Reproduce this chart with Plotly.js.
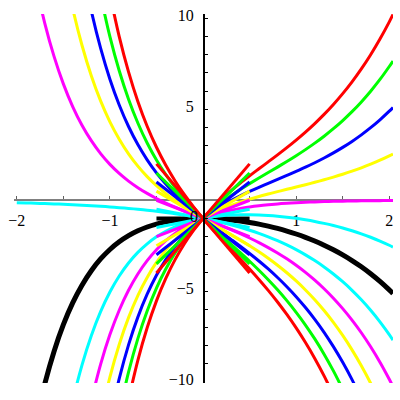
<!DOCTYPE html>
<html><head><meta charset="utf-8">
<script src="https://cdn.plot.ly/plotly-3.0.1.min.js"></script>
<style>html,body{margin:0;padding:0;background:#fff}#plot{width:400px;height:400px}</style>
</head><body><div id="plot"></div>
<script>
// shared x grid for the solution curves
const xGrid = [-2,-1.9,-1.8,-1.7,-1.6,-1.5,-1.4,-1.3,-1.2,-1.1,-1,-0.9,-0.8,-0.7,-0.6,-0.5,-0.4,-0.3,-0.2,-0.1,0,0.1,0.2,0.3,0.4,0.5,0.6,0.7,0.8,0.9,1,1.1,1.2,1.3,1.4,1.5,1.6,1.7,1.8,1.9,2,2.04];

// solution curves through (0,-1), named by initial slope; each starts at an index of xGrid
const yBlack0 = [-12.31,-10.11,-8.312,-6.844,-5.646,-4.670,-3.875,-3.230,-2.708,-2.288,-1.951,-1.683,-1.473,-1.310,-1.189,-1.101,-1.043,-1.010,-1,-1.010,-1.038,-1.083,-1.144,-1.222,-1.315,-1.425,-1.551,-1.695,-1.857,-2.040,-2.244,-2.471,-2.724,-3.004,-3.316,-3.660,-4.042,-4.465,-4.932,-5.133];
const yCyanP1 = [-13.47,-11.05,-9.067,-7.449,-6.128,-5.049,-4.169,-3.452,-2.869,-2.396,-2.014,-1.707,-1.462,-1.268,-1.116,-1,-0.914,-0.854,-0.816,-0.797,-0.795,-0.808,-0.836,-0.876,-0.930,-0.996,-1.075,-1.167,-1.273,-1.392,-1.527,-1.678,-1.847,-2.035,-2.244,-2.475,-2.575];
const yMagentaP2 = [-11.02,-9.025,-7.389,-6.050,-4.953,-4.055,-3.320,-2.718,-2.226,-1.822,-1.492,-1.221,-1,-0.819,-0.670,-0.549,-0.449,-0.368,-0.301,-0.247,-0.202,-0.165,-0.135,-0.111,-0.091,-0.074,-0.061,-0.050,-0.041,-0.033,-0.027,-0.022,-0.018,-0.017];
const yYellowP3 = [-11.92,-9.729,-7.931,-6.454,-5.241,-4.244,-3.422,-2.745,-2.182,-1.716,-1.326,-1,-0.723,-0.487,-0.282,-0.102,0.059,0.206,0.342,0.473,0.599,0.726,0.854,0.986,1.124,1.271,1.428,1.597,1.780,1.980,2.199,2.439,2.541];
const yBlueP4 = [-12.07,-9.812,-7.955,-6.427,-5.167,-4.126,-3.263,-2.543,-1.941,-1.432,-1,-0.628,-0.303,-0.015,0.246,0.486,0.713,0.932,1.147,1.364,1.587,1.818,2.062,2.322,2.602,2.905,3.234,3.594,3.988,4.420,4.896,5.099];
const yGreenP5 = [-11.69,-9.457,-7.613,-6.091,-4.830,-3.782,-2.903,-2.165,-1.537,-1,-0.532,-0.119,0.252,0.593,0.913,1.220,1.521,1.822,2.129,2.448,2.783,3.139,3.521,3.934,4.382,4.871,5.407,5.995,6.641,7.353,7.657];
const yRedP6 = [-10.96,-8.800,-7.015,-5.533,-4.300,-3.264,-2.390,-1.643,-1,-0.437,0.065,0.519,0.941,1.340,1.727,2.110,2.496,2.894,3.309,3.747,4.215,4.719,5.265,5.859,6.509,7.221,8.002,8.862,9.809,10.215];
const yCyanM1 = [-0.135,-0.150,-0.165,-0.183,-0.202,-0.223,-0.247,-0.273,-0.301,-0.333,-0.368,-0.407,-0.449,-0.497,-0.549,-0.607,-0.670,-0.741,-0.819,-0.905,-1,-1.105,-1.221,-1.350,-1.492,-1.649,-1.822,-2.014,-2.226,-2.460,-2.718,-3.004,-3.320,-3.669,-4.055,-4.482,-4.953,-5.474,-6.050,-6.686,-7.389,-7.691];
const yMagentaM2 = [11.98,9.744,7.908,6.398,5.153,4.125,3.273,2.564,1.972,1.475,1.052,0.690,0.375,0.097,-0.152,-0.380,-0.594,-0.799,-1,-1.201,-1.405,-1.617,-1.839,-2.076,-2.329,-2.603,-2.900,-3.224,-3.579,-3.969,-4.397,-4.868,-5.387,-5.959,-6.590,-7.287,-8.057,-8.907,-9.846,-10.249];
const yYellowM3 = [13.02,10.552,8.522,6.847,5.462,4.313,3.356,2.553,1.876,1.299,0.801,0.367,-0.020,-0.370,-0.694,-1,-1.296,-1.589,-1.884,-2.187,-2.503,-2.836,-3.192,-3.575,-3.989,-4.440,-4.933,-5.473,-6.066,-6.718,-7.436,-8.228,-9.101,-10.065,-11.128];
const yBlueM4 = [12.92,10.42,8.359,6.653,5.237,4.054,3.062,2.222,1.505,0.885,0.340,-0.145,-0.589,-1,-1.392,-1.773,-2.151,-2.534,-2.930,-3.343,-3.781,-4.249,-4.754,-5.301,-5.898,-6.550,-7.264,-8.050,-8.914,-9.865,-10.914];
const yGreenM5 = [11.26,8.994,7.118,5.556,4.248,3.146,2.209,1.404,0.701,0.079,-0.483,-1,-1.487,-1.956,-2.418,-2.882,-3.356,-3.850,-4.370,-4.924,-5.519,-6.162,-6.862,-7.626,-8.463,-9.381,-10.391];
const yRedM6 = [11.33,8.999,7.057,5.434,4.070,2.913,1.923,1.061,0.303,-0.378,-1,-1.583,-2.140,-2.685,-3.229,-3.783,-4.357,-4.959,-5.598,-6.283,-7.023,-7.827,-8.702,-9.661,-10.713];

// tangent segments at (0,-1): x ends and y ends
const segX = [-0.5, 0.5];
const tanRedP = [-4, 2], tanGreenP = [-3.5, 1.5], tanBlueP = [-3, 1], tanYellowP = [-2.5, 0.5], tanMagentaP = [-2, 0], tanCyanP = [-1.5, -0.5];
const tanBlack = [-1, -1];
const tanCyanM = [-0.5, -1.5], tanMagentaM = [0, -2], tanYellowM = [0.5, -2.5], tanBlueM = [1, -3], tanGreenM = [1.5, -3.5], tanRedM = [2, -4];

// ticks
const xTickVals = [-2,-1.5,-1,-0.5,0.5,1,1.5,2];
const xTickText = ['\u22122','','\u22121','','','1','','2'];
const yTickVals = [-10,-9,-8,-7,-6,-5,-4,-3,-2,-1,1,2,3,4,5,6,7,8,9,10];
const yTickText = ['\u221210','','','','','\u22125','','','','','','','','','5','','','','','10'];

const RED='#ff0000', GREEN='#00ff00', BLUE='#0000ff', YELLOW='#ffff00', MAGENTA='#ff00ff', CYAN='#00ffff', BLACK='#000000';

const traces = [];
traces.push({x: segX, y: tanBlack, mode:'lines', line:{color:BLACK, width:4}, hoverinfo:'skip'});
traces.push({x: xGrid.slice(2, 2 + yBlack0.length), y: yBlack0, mode:'lines', line:{color:BLACK, width:5, shape:'spline'}, hoverinfo:'skip'});
const curves = [
  [yCyanM1, 0, CYAN], [yMagentaM2, 2, MAGENTA], [yYellowM3, 5, YELLOW], [yBlueM4, 7, BLUE], [yGreenM5, 9, GREEN], [yRedM6, 10, RED],
  [yCyanP1, 5, CYAN], [yMagentaP2, 8, MAGENTA], [yYellowP3, 9, YELLOW], [yBlueP4, 10, BLUE], [yGreenP5, 11, GREEN], [yRedP6, 12, RED]
];
curves.forEach(([ys, st, col]) => {
  traces.push({x: xGrid.slice(st, st + ys.length), y: ys, mode:'lines', line:{color:col, width:3, shape:'spline'}, hoverinfo:'skip'});
});
const segs = [[tanCyanP,CYAN],[tanCyanM,CYAN],[tanMagentaP,MAGENTA],[tanMagentaM,MAGENTA],[tanYellowP,YELLOW],[tanYellowM,YELLOW],[tanBlueP,BLUE],[tanBlueM,BLUE],[tanGreenP,GREEN],[tanGreenM,GREEN],[tanRedP,RED],[tanRedM,RED]];
segs.forEach(([ys, col]) => {
  traces.push({x: segX, y: ys, mode:'lines', line:{color:col, width:3}, hoverinfo:'skip'});
});

const tickFont = {family:'Liberation Serif, serif', size:16, color:'#000'};
const layout = {
  width:400, height:400,
  font:{family:'Liberation Serif, serif', size:16, color:'#000'},
  margin:{l:14, r:7, t:14, b:17, pad:0},
  paper_bgcolor:'#fff', plot_bgcolor:'#fff',
  showlegend:false,
  xaxis:{range:[-2.03,2.04], anchor:'free', position:0.4951, showline:true, linecolor:'#808080', linewidth:2,
         ticks:'inside', ticklen:3, tickwidth:1, tickcolor:'#606060', tickvals:xTickVals, ticktext:xTickText,
         showgrid:false, zeroline:false, tickfont:tickFont, ticklabelstandoff:5, layer:'below traces', fixedrange:true},
  yaxis:{range:[-10.05,10.24], anchor:'free', position:0.4987, showline:true, linecolor:'#000', linewidth:1.5,
         ticks:'inside', ticklen:3, tickwidth:1, tickcolor:'#000', tickvals:yTickVals, ticktext:yTickText,
         showgrid:false, zeroline:false, tickfont:tickFont, ticklabelshift:-3, ticklabelstandoff:6, fixedrange:true},
  annotations:[{x:-0.1, y:-0.89, xref:'x', yref:'y', text:'0', showarrow:false, font:tickFont}]
};
Plotly.newPlot('plot', traces, layout, {staticPlot:true, displayModeBar:false});
</script></body></html>
